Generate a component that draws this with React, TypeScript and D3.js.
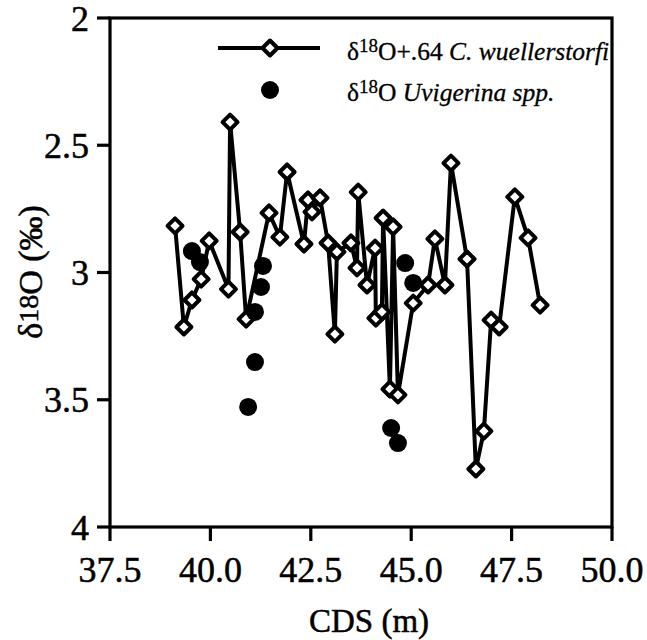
import React from "react";
import * as d3 from "d3";

const cwDepth = [39.12, 39.34, 39.54, 39.77, 39.97, 40.45, 40.49, 40.74, 40.89, 41.46, 41.73, 41.91, 42.33, 42.43, 42.53, 42.73, 42.93, 43.1, 43.15, 43.5, 43.65, 43.68, 43.9, 44.1, 44.12, 44.27, 44.3, 44.47, 44.55, 44.67, 45.05, 45.42, 45.59, 45.84, 45.99, 46.39, 46.61, 46.81, 46.99, 47.19, 47.58, 47.91, 48.21];
const cwValue = [2.817, 3.214, 3.108, 3.026, 2.876, 3.065, 2.409, 2.841, 3.183, 2.766, 2.861, 2.605, 2.888, 2.715, 2.762, 2.707, 2.884, 3.242, 2.919, 2.884, 2.982, 2.684, 3.049, 2.904, 3.179, 3.155, 2.786, 3.458, 2.821, 3.481, 3.12, 3.049, 2.868, 3.049, 2.57, 2.947, 3.772, 3.623, 3.187, 3.214, 2.703, 2.864, 3.128];

const uvDepth = [39.54, 39.74, 40.94, 41.11, 41.11, 41.26, 41.31, 44.5, 44.67, 44.85, 45.05];
const uvValue = [2.916, 2.959, 3.528, 3.352, 3.155, 3.057, 2.974, 3.611, 3.67, 2.963, 3.041];

const xTicks = [37.5, 40.0, 42.5, 45.0, 47.5, 50.0];
const yTicks = [2, 2.5, 3, 3.5, 4];

const FONT = '"Liberation Serif", "Times New Roman", serif';

export default function App() {
  const W = 647, H = 640;
  const left = 110, right = 612, top = 18, bottom = 527;
  const x = d3.scaleLinear().domain([37.5, 50]).range([left, right]);
  const y = d3.scaleLinear().domain([2, 4]).range([top, bottom]);

  const cw = cwDepth.map((d, i) => [d, cwValue[i]] as [number, number]);
  const uv = uvDepth.map((d, i) => [d, uvValue[i]] as [number, number]);
  const line = d3.line<[number, number]>().x(d => x(d[0])).y(d => y(d[1]));

  const dia = (cx: number, cy: number, r = 7.5) =>
    `M${cx},${cy - r}L${cx + r},${cy}L${cx},${cy + r}L${cx - r},${cy}Z`;

  const txt = { stroke: "#000", strokeWidth: 0.5 };

  return (
    <svg width={W} height={H} style={{ position: "absolute", left: 0, top: 0, background: "#fff" }} fontFamily={FONT}>
      <rect x={0} y={0} width={W} height={H} fill="#fff" />
      {/* frame */}
      <rect x={left} y={top} width={right - left} height={bottom - top} fill="none" stroke="#000" strokeWidth={3.2} />
      {/* y ticks */}
      {yTicks.map(t => (
        <g key={"y" + t}>
          <line x1={left - 13} x2={left} y1={y(t)} y2={y(t)} stroke="#000" strokeWidth={3.2} />
          <text x={89} y={y(t)} dy="0.35em" textAnchor="end" fontSize={36} {...txt}>{t}</text>
        </g>
      ))}
      {/* x ticks */}
      {xTicks.map(t => (
        <g key={"x" + t}>
          <line x1={x(t)} x2={x(t)} y1={bottom} y2={bottom + 14} stroke="#000" strokeWidth={3.2} />
          <text x={x(t)} y={582} textAnchor="middle" fontSize={36} {...txt}>{t.toFixed(1)}</text>
        </g>
      ))}
      <text x={(left + right) / 2 + 8} y={632} textAnchor="middle" fontSize={33} {...txt}>CDS (m)</text>
      <text transform={`translate(42,272) rotate(-90)`} textAnchor="middle" fontSize={34} {...txt}>
        δ<tspan fontSize={28} dy={-4}>18</tspan><tspan dy={4}>O (‰)</tspan>
      </text>

      {/* series */}
      <path d={line(cw) || ""} fill="none" stroke="#000" strokeWidth={4} strokeLinejoin="round" />
      {cw.map((d, i) => (
        <path key={"d" + i} d={dia(x(d[0]), y(d[1]))} fill="#fff" stroke="#000" strokeWidth={4} strokeLinejoin="round" />
      ))}
      {uv.map((d, i) => (
        <circle key={"c" + i} cx={x(d[0])} cy={y(d[1])} r={9} fill="#000" />
      ))}

      {/* legend */}
      <line x1={218} x2={320} y1={48} y2={48} stroke="#000" strokeWidth={4} />
      <path d={dia(270, 48)} fill="#fff" stroke="#000" strokeWidth={4} strokeLinejoin="round" />
      <circle cx={270} cy={90} r={9} fill="#000" />
      <text x={347} y={60} fontSize={25.5} {...txt} strokeWidth={0.3}>
        δ<tspan fontSize={19} dy={-8}>18</tspan><tspan dy={8}>O+.64 </tspan><tspan fontStyle="italic">C. wuellerstorfi</tspan>
      </text>
      <text x={347} y={101} fontSize={25.5} {...txt} strokeWidth={0.3}>
        δ<tspan fontSize={19} dy={-8}>18</tspan><tspan dy={8}>O </tspan><tspan fontStyle="italic">Uvigerina  spp.</tspan>
      </text>
    </svg>
  );
}
